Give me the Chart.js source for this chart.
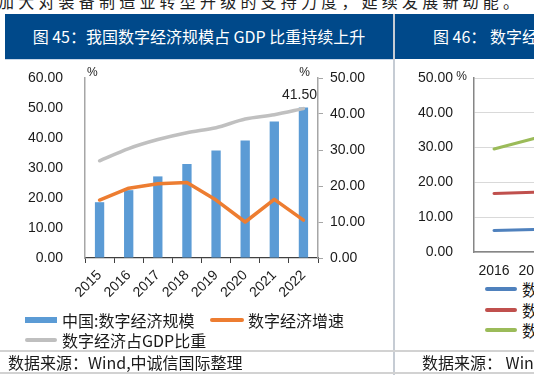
<!DOCTYPE html>
<html><head><meta charset="utf-8">
<script src="https://cdn.jsdelivr.net/npm/chart.js@4"></script>
<style>
html,body{margin:0;padding:0;background:#fff;}
body{width:534px;height:375px;overflow:hidden;position:relative;font-family:"Noto Sans CJK SC",sans-serif;color:#1a1a1a;}
.abs{position:absolute;white-space:nowrap;}
.hdr{background:#00498a;color:#fff;font-size:16px;line-height:45px;height:45px;top:14px;}
.leg{font-size:16px;line-height:20px;height:20px;}
.sw{position:absolute;}
</style></head><body>
<div class="abs" style="left:-2px;top:-7px;font-size:16px;line-height:16px;letter-spacing:4.2px;color:#222;">加大对装备制造业转型升级的支持力度，延续发展新动能。</div>

<div class="abs hdr" style="left:5px;width:388px;text-align:center;">图 45：我国数字经济规模占 GDP 比重持续上升</div>
<div class="abs hdr" style="left:395px;width:200px;padding-left:38px;">图 46： 数字经济渗透率</div>
<div class="abs" style="left:5px;top:59px;width:388px;height:1px;background:#c9d7e8;"></div>
<div class="abs" style="left:393px;top:14px;width:2px;height:361px;background:#c6ccd4;"></div>
<div class="abs" style="left:0;top:350px;width:534px;height:2px;background:#d2d2d2;"></div>
<div class="abs" style="left:0;top:372px;width:534px;height:2px;background:#d2d2d2;"></div>

<canvas id="c1" class="abs" width="388" height="250" style="left:5px;top:62px;"></canvas>
<canvas id="c2" class="abs" width="170" height="215" style="left:395px;top:62px;"></canvas>

<!-- left legend -->
<div class="sw" style="left:25px;top:317px;width:32px;height:6px;background:#5b9bd5;"></div>
<div class="abs leg" style="left:62px;top:310px;">中国:数字经济规模</div>
<div class="sw" style="left:210px;top:318px;width:34px;height:4px;background:#ed7d31;border-radius:2px;"></div>
<div class="abs leg" style="left:248px;top:310px;">数字经济增速</div>
<div class="sw" style="left:25px;top:338px;width:32px;height:4px;background:#bfbfbf;border-radius:2px;"></div>
<div class="abs leg" style="left:62px;top:330px;">数字经济占GDP比重</div>

<!-- right legend -->
<div class="sw" style="left:485px;top:287px;width:32px;height:4px;background:#4f81bd;border-radius:2px;"></div>
<div class="abs leg" style="left:522px;top:279px;">数字经济渗透率:农业</div>
<div class="sw" style="left:485px;top:308px;width:32px;height:4px;background:#c0504d;border-radius:2px;"></div>
<div class="abs leg" style="left:522px;top:300px;">数字经济渗透率:工业</div>
<div class="sw" style="left:485px;top:328px;width:32px;height:4px;background:#9bbb59;border-radius:2px;"></div>
<div class="abs leg" style="left:522px;top:320px;">数字经济渗透率:服务业</div>

<div class="abs" style="left:8px;top:352px;font-size:16px;line-height:20px;">数据来源：Wind,中诚信国际整理</div>
<div class="abs" style="left:422px;top:352px;font-size:16px;line-height:20px;">数据来源： Wind，中诚信国际整理</div>

<script>
// ---- data: chart 45 ----
const years = ['2015','2016','2017','2018','2019','2020','2021','2022'];
const digitalScale = [18.6, 22.6, 27.2, 31.3, 35.8, 39.2, 45.5, 50.2];   // left axis
const digitalGrowth = [16.1, 19.4, 20.6, 21.0, 16.1, 10.0, 16.3, 10.5]; // right axis
const gdpShare = [27.0, 30.4, 32.9, 34.8, 36.2, 38.6, 39.8, 41.5];      // right axis
const leftAxisTicks = [0, 10, 20, 30, 40, 50, 60];
const rightAxisTicks = [0, 10, 20, 30, 40, 50];
const lastLabel = '41.50';
// ---- data: chart 46 (partially visible) ----
const years2 = ['2016', '2017'];
const agriculture = [6.2, 6.5];
const industry = [16.8, 17.2];
const services = [29.6, 32.6];
const axis2Ticks = [0, 10, 20, 30, 40, 50];

const tickFont = {family: '"Liberation Sans", Arial, sans-serif', size: 14};
const fmt = v => Number(v).toFixed(2);
const clear = 'rgba(0,0,0,0)';

const annot1 = {
  id: 'annot1',
  afterDatasetsDraw(chart) {
    const ctx = chart.ctx, a = chart.chartArea;
    ctx.save();
    ctx.fillStyle = '#222';
    ctx.font = '12px "Liberation Sans", Arial, sans-serif';
    ctx.textAlign = 'left'; ctx.textBaseline = 'bottom';
    ctx.fillText('%', a.left + 2, a.top + 1);
    ctx.textAlign = 'right';
    ctx.fillText('%', a.right - 8, a.top + 1);
    const meta = chart.getDatasetMeta(2);
    const pt = meta.data[meta.data.length - 1];
    ctx.font = '14px "Liberation Sans", Arial, sans-serif';
    ctx.textAlign = 'center'; ctx.textBaseline = 'middle';
    ctx.fillText(lastLabel, pt.x - 4, pt.y - 13);
    ctx.restore();
  }
};

new Chart(document.getElementById('c1'), {
  data: {
    labels: years,
    datasets: [
      {type: 'bar', label: '中国:数字经济规模', data: digitalScale, yAxisID: 'y',
       backgroundColor: '#5b9bd5', barPercentage: 1, categoryPercentage: 0.32, order: 10},
      {type: 'line', label: '数字经济增速', data: digitalGrowth, yAxisID: 'y1',
       borderColor: '#ed7d31', borderWidth: 3.5, pointRadius: 0, tension: 0, order: 2,
       borderJoinStyle: 'round', borderCapStyle: 'round'},
      {type: 'line', label: '数字经济占GDP比重', data: gdpShare, yAxisID: 'y1',
       borderColor: '#c0c0c0', borderWidth: 3.5, pointRadius: 0, tension: 0.3, order: 1,
       borderCapStyle: 'round'}
    ]
  },
  options: {
    responsive: false, animation: false,
    layout: {padding: {top: 16, left: 0, right: 0, bottom: 0}},
    plugins: {legend: {display: false}, tooltip: {enabled: false}},
    scales: {
      x: {
        afterFit: s => { s.height = 54; },
        grid: {drawOnChartArea: false, drawTicks: true, tickLength: 5, color: '#404040', offset: true},
        border: {display: true, color: '#404040', width: 1.2},
        ticks: {minRotation: 45, maxRotation: 45, padding: 4, font: tickFont, color: '#1a1a1a'}
      },
      y: {
        position: 'left', min: 0, max: 60,
        afterFit: s => { s.width = 80; },
        afterBuildTicks: s => { s.ticks = leftAxisTicks.map(v => ({value: v})); },
        grid: {drawOnChartArea: false, drawTicks: true, tickLength: 19, color: clear, tickColor: clear},
        border: {display: true, color: '#a6a6a6', width: 1.5},
        ticks: {padding: 3, font: tickFont, color: '#1a1a1a', callback: fmt}
      },
      y1: {
        position: 'right', min: 0, max: 50,
        afterFit: s => { s.width = 75; },
        afterBuildTicks: s => { s.ticks = rightAxisTicks.map(v => ({value: v})); },
        grid: {drawOnChartArea: false, drawTicks: true, tickLength: 5, color: '#a6a6a6'},
        border: {display: true, color: '#a6a6a6', width: 1.5},
        ticks: {padding: 7, font: tickFont, color: '#1a1a1a', callback: fmt}
      }
    }
  },
  plugins: [annot1]
});

const annot2 = {
  id: 'annot2',
  afterDraw(chart) {
    const ctx = chart.ctx, a = chart.chartArea;
    ctx.save();
    ctx.fillStyle = '#222';
    ctx.font = '12px "Liberation Sans", Arial, sans-serif';
    ctx.textAlign = 'right'; ctx.textBaseline = 'middle';
    ctx.fillText('%', a.left - 7, a.top - 1);
    ctx.restore();
  }
};

new Chart(document.getElementById('c2'), {
  type: 'line',
  data: {
    labels: years2,
    datasets: [
      {label: '数字经济渗透率:农业', data: agriculture, borderColor: '#4f81bd', borderWidth: 3, pointRadius: 0, borderCapStyle: 'round'},
      {label: '数字经济渗透率:工业', data: industry, borderColor: '#c0504d', borderWidth: 3, pointRadius: 0, borderCapStyle: 'round'},
      {label: '数字经济渗透率:服务业', data: services, borderColor: '#9bbb59', borderWidth: 3, pointRadius: 0, borderCapStyle: 'round'}
    ]
  },
  options: {
    responsive: false, animation: false,
    layout: {padding: {top: 16, left: 0, right: 11, bottom: 0}},
    plugins: {legend: {display: false}, tooltip: {enabled: false}},
    scales: {
      x: {
        offset: true,
        afterFit: s => { s.height = 25; },
        grid: {display: false, drawTicks: false},
        border: {display: true, color: '#868686', width: 1.5},
        ticks: {padding: 11, font: tickFont, color: '#1a1a1a', maxRotation: 0}
      },
      y: {
        min: 0, max: 50,
        afterFit: s => { s.width = 79; },
        afterBuildTicks: s => { s.ticks = axis2Ticks.map(v => ({value: v})); },
        grid: {color: '#d9d9d9', drawTicks: true, tickLength: 18, tickColor: clear},
        border: {display: true, color: '#868686', width: 1.5},
        ticks: {padding: 3, font: tickFont, color: '#1a1a1a', callback: fmt}
      }
    }
  },
  plugins: [annot2]
});
</script>
</body></html>
